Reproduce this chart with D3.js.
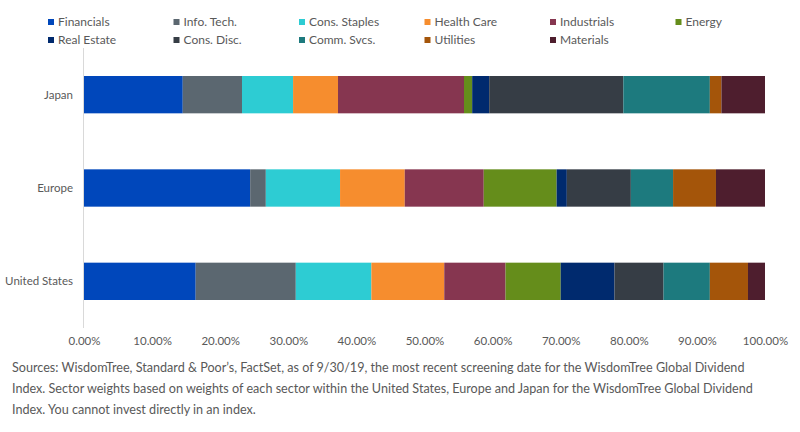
<!DOCTYPE html>
<html>
<head>
<meta charset="utf-8">
<script src="https://cdn.jsdelivr.net/npm/d3@7"></script>
<style>
  body { margin: 0; background: #fff; }
  text { font-family: Lato, "Open Sans", sans-serif; }
</style>
</head>
<body>
<div class="chart"></div>
<script>
// regions (top to bottom) and sectors (stack order)
var regions = ["Japan", "Europe", "United States"];
var sectors = ["Financials", "Info. Tech.", "Cons. Staples", "Health Care", "Industrials", "Energy",
  "Real Estate", "Cons. Disc.", "Comm. Svcs.", "Utilities", "Materials"];
var colors = ["#0047bb", "#5b6770", "#2dccd3", "#f68d2e", "#863650", "#658d1b",
  "#002a6e", "#363d45", "#1d7a7e", "#a4550a", "#4e1e2e"];

// sector weights (%) per region, same order as sectors
var japan = [14.5, 8.7, 7.5, 6.6, 18.5, 1.2, 2.5, 19.7, 12.7, 1.7, 6.4];
var europe = [24.4, 2.3, 10.9, 9.5, 11.6, 10.7, 1.5, 9.4, 6.2, 6.3, 7.2];
var unitedStates = [16.4, 14.7, 11.1, 10.7, 9.0, 8.1, 7.9, 7.2, 6.8, 5.6, 2.5];

var ticks = [0, 0.1, 0.2, 0.3, 0.4, 0.5, 0.6, 0.7, 0.8, 0.9, 1.0];
var footnote = [
  "Sources: WisdomTree, Standard & Poor\u2019s, FactSet, as of 9/30/19, the most recent screening date for the WisdomTree Global Dividend",
  "Index. Sector weights based on weights of each sector within the United States, Europe and Japan for the WisdomTree Global Dividend",
  "Index. You cannot invest directly in an index."
];

var svgWidth = 800;
var svgHeight = 432;
var margin = { top: 48, right: 35, bottom: 104, left: 84 };
var width = svgWidth - margin.left - margin.right;
var height = svgHeight - margin.top - margin.bottom;

var svg = d3.select(".chart")
  .append("svg")
  .attr("width", svgWidth)
  .attr("height", svgHeight);

var chartGroup = svg.append("g")
  .attr("transform", `translate(${margin.left}, ${margin.top})`);

// build rows for the stack
var values = [japan, europe, unitedStates];
var rows = regions.map(function(r, i) {
  var row = { region: r };
  sectors.forEach(function(s, j) { row[s] = values[i][j]; });
  return row;
});

var stack = d3.stack()
  .keys(sectors)
  .offset(d3.stackOffsetExpand);
var series = stack(rows);

var xScale = d3.scaleLinear()
  .domain([0, 1])
  .range([0, width]);

var yScale = d3.scaleBand()
  .domain(regions)
  .range([0, height])
  .paddingInner(0.6)
  .paddingOuter(0.3);

var color = d3.scaleOrdinal()
  .domain(sectors)
  .range(colors);

// bars
chartGroup.selectAll("g.series")
  .data(series)
  .enter()
  .append("g")
  .attr("class", "series")
  .attr("fill", d => color(d.key))
  .selectAll("rect")
  .data(d => d)
  .enter()
  .append("rect")
  .attr("x", d => xScale(d[0]))
  .attr("y", d => yScale(d.data.region))
  .attr("width", d => xScale(d[1]) - xScale(d[0]))
  .attr("height", yScale.bandwidth());

// left axis line and labels
chartGroup.append("line")
  .attr("x1", -0.5).attr("x2", -0.5)
  .attr("y1", 0).attr("y2", height)
  .attr("stroke", "#d9d9d9");

chartGroup.selectAll("text.cat")
  .data(regions)
  .enter()
  .append("text")
  .attr("class", "cat")
  .attr("x", -11)
  .attr("y", d => yScale(d) + yScale.bandwidth() / 2)
  .attr("dy", "0.35em")
  .attr("text-anchor", "end")
  .style("font-size", "11.5px")
  .attr("fill", "#595959")
  .text(d => d);

// bottom axis
var bottomAxis = d3.axisBottom(xScale)
  .tickValues(ticks)
  .tickFormat(d3.format(".2%"))
  .tickSize(0)
  .tickPadding(0);

var xAxis = chartGroup.append("g")
  .attr("transform", `translate(0, ${height + 9})`)
  .call(bottomAxis);
xAxis.select(".domain").remove();
xAxis.selectAll("text")
  .style("font-family", "Lato, sans-serif")
  .style("font-size", "11.5px")
  .attr("fill", "#595959");

// legend
var legend = svg.append("g")
  .attr("transform", "translate(48, 19)");

var legendItem = legend.selectAll("g")
  .data(sectors)
  .enter()
  .append("g")
  .attr("transform", (d, i) => `translate(${(i % 6) * 125.5}, ${Math.floor(i / 6) * 18})`);

legendItem.append("rect")
  .attr("width", 6)
  .attr("height", 6)
  .attr("fill", d => color(d));

legendItem.append("text")
  .attr("x", 10)
  .attr("y", 3)
  .attr("dy", "0.35em")
  .style("font-size", "12px")
  .attr("fill", "#595959")
  .text(d => d);

// footnote
svg.append("g")
  .selectAll("text")
  .data(footnote)
  .enter()
  .append("text")
  .attr("x", 12)
  .attr("y", (d, i) => 372 + i * 21)
  .style("font-size", "12.6px")
  .attr("fill", "#595959")
  .text(d => d);
</script>
</body>
</html>
